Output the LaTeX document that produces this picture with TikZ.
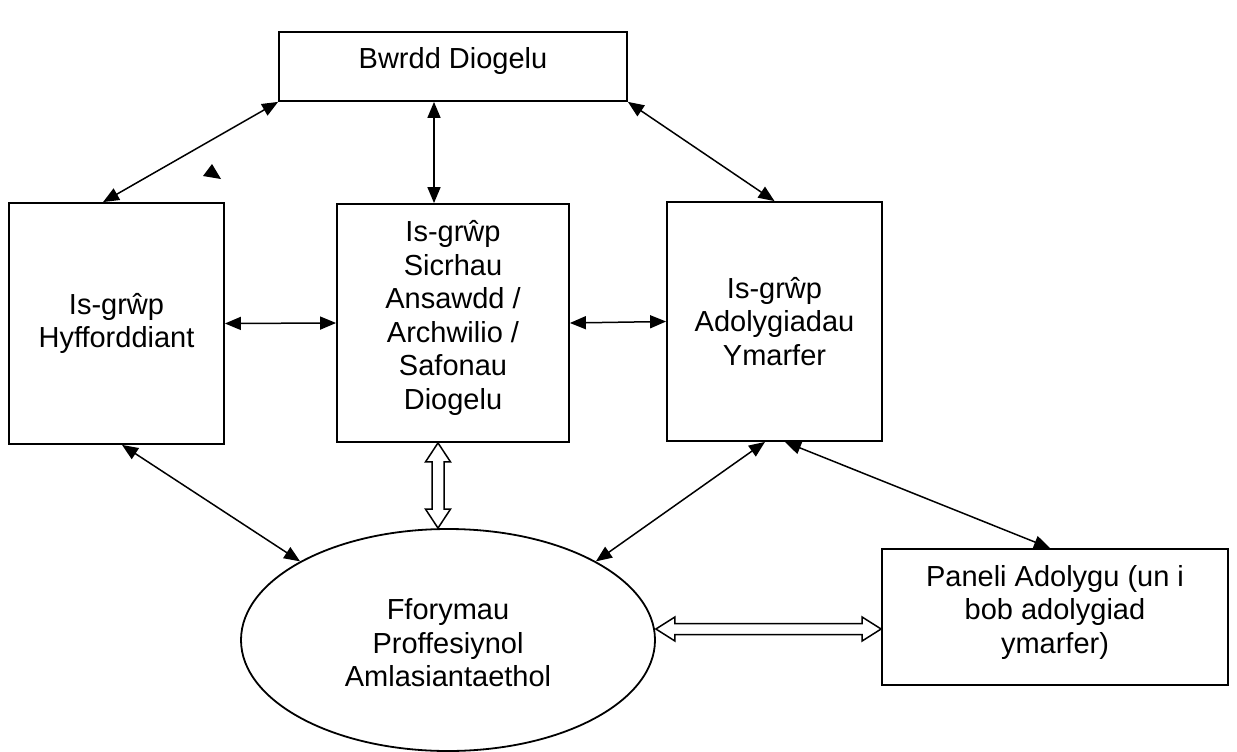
\documentclass[tikz,border=0pt]{standalone}
\usepackage{fontspec}
\setmainfont{Liberation Sans}
\usetikzlibrary{arrows.meta,calc,shapes.geometric}
\begin{document}
\begin{tikzpicture}[x=1pt,y=-1pt,
  every node/.style={font=\fontsize{29}{33.5}\selectfont, align=center, inner sep=0pt},
  box/.style={draw, line width=1.8pt, rectangle},
  conn/.style={line width=1.5pt, {Triangle[length=16pt,width=13pt]}-{Triangle[length=16pt,width=13pt]}},
  hollow/.style={draw, line width=1.5pt, fill=white, line join=miter}
]
\useasboundingbox (0,0) rectangle (1237,752);

\node[box, minimum width=348pt, minimum height=69pt] (top) at (453,66.5) {};
\node (toptxt) at (453,61) {Bwrdd Diogelu};

\node[box, minimum width=215pt, minimum height=241pt] (left) at (116.5,323.5) {Is-grŵp\\Hyfforddiant};
\node[box, minimum width=232pt, minimum height=238pt] (mid) at (453,323) {};
\node (midtxt) at (453,318) {Is-grŵp\\Sicrhau\\Ansawdd /\\Archwilio /\\Safonau\\Diogelu};
\node[box, minimum width=215pt, minimum height=239pt] (right) at (774.5,321.5) {Is-grŵp\\Adolygiadau\\Ymarfer};

\node[draw, line width=1.8pt, ellipse, minimum width=414pt, minimum height=222pt] (ell) at (448,640) {};
\node (elltxt) at (448,643) {Fforymau\\Proffesiynol\\Amlasiantaethol};

\node[box, minimum width=346pt, minimum height=136pt] (pan) at (1055,617) {};
\node (pantxt) at (1055,612) {Paneli Adolygu (un i\\bob adolygiad\\ymarfer)};

% connectors
\coordinate (lt) at ($(left.north)+(-13.5,0)$);
\draw[conn] (lt) -- (top.south west);
\draw[conn] ($(top.south)+(-19,0)$) -- ($(mid.north)+(-19,0)$);
\draw[conn] (top.south east) -- (right.north);
\draw[conn] (left.east) -- (mid.west);
\draw[conn] (mid.east) -- (right.west);
\draw[conn] ($(left.south)+(5.5,0)$) -- (ell.152);
\draw[conn] ($(right.south)+(-9.5,0)$) -- (ell.28.6);
\draw[conn] ($(right.south)+(10.5,0)$) -- ($(pan.north)+(-5,0)$);

% hollow double arrows
\coordinate (va) at ($(mid.south)+(-15,0)$);
\coordinate (vb) at ($(ell.north)+(-10,0)$);
\draw[hollow] (va) -- ++(12.5,19) -- ++(-6.5,0) -- ($(vb)+(6,-19)$) -- ++(6.5,0) -- (vb)
  -- ++(-12.5,-19) -- ++(6.5,0) -- ($(va)+(-6,19)$) -- ++(-6.5,0) -- cycle;

\coordinate (ha) at ($(ell.east)+(0,-11)$);
\coordinate (hb) at ($(pan.west)+(0,12)$);
\draw[hollow] (ha) -- ++(19,-12) -- ++(0,6.5) -- ($(hb)+(-19,-5.5)$) -- ++(0,-6.5) -- (hb)
  -- ++(-19,12) -- ++(0,-6.5) -- ($(ha)+(19,5.5)$) -- ++(0,6.5) -- cycle;

% stray arrowhead
\fill (203,176) -- (212,164) -- (221,179) -- cycle;
\end{tikzpicture}
\end{document}
